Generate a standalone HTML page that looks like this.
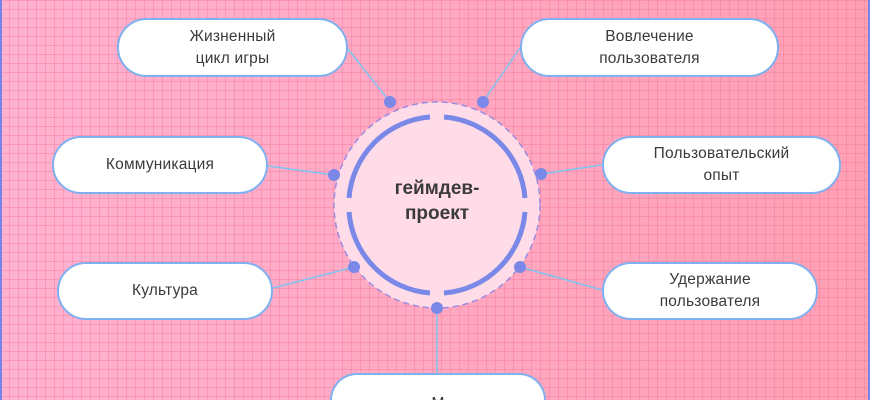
<!DOCTYPE html>
<html><head><meta charset="utf-8"><style>
*{margin:0;padding:0;box-sizing:border-box}
html,body{width:870px;height:400px;overflow:hidden}
body{position:relative;font-family:"Liberation Sans",sans-serif;
background:
linear-gradient(rgba(240,110,140,.35) 1px,transparent 1px) 0 0/9px 9px,
linear-gradient(90deg,rgba(240,110,140,.35) 1px,transparent 1px) 0 0/9px 9px,
linear-gradient(90deg,#ffb2d0,#ffa6c0 60%,#ff9fb4);}
.b{position:absolute;background:#fff;border:2px solid #7fb0f0;border-radius:30px;display:flex;align-items:center;justify-content:center;text-align:center;color:#3a3a3a;font-size:15.5px;line-height:22px;letter-spacing:.2px}
svg{position:absolute;left:0;top:0}
</style></head><body>
<svg width="870" height="400">
<rect x="0" y="0" width="2" height="400" fill="#7a84e8"/>
<rect x="868" y="0" width="2" height="400" fill="#7a84e8"/>
<g stroke="#7fc4f0" stroke-width="1.5">
<line x1="347" y1="48" x2="390" y2="102"/>
<line x1="520" y1="48" x2="483" y2="102"/>
<line x1="268" y1="166" x2="334" y2="175"/>
<line x1="602" y1="165" x2="541" y2="174"/>
<line x1="273" y1="288" x2="354" y2="267"/>
<line x1="602" y1="290" x2="520" y2="267"/>
<line x1="437" y1="308" x2="437" y2="373"/>
</g>
<circle cx="437" cy="205" r="103" fill="#ffdce8" stroke="#9a8ce0" stroke-width="1.5" stroke-dasharray="6 4"/>
<g fill="none" stroke="#7a88e8" stroke-width="5">
<path d="M 430 117 A 88 88 0 0 0 349 198"/>
<path d="M 444 117 A 88 88 0 0 1 525 198"/>
<path d="M 349 212 A 88 88 0 0 0 430 293"/>
<path d="M 525 212 A 88 88 0 0 1 444 293"/>
</g>
<g fill="#7a88e8">
<circle cx="390" cy="102" r="6"/><circle cx="483" cy="102" r="6"/>
<circle cx="334" cy="175" r="6"/><circle cx="541" cy="174" r="6"/>
<circle cx="354" cy="267" r="6"/><circle cx="520" cy="267" r="6"/>
<circle cx="437" cy="308" r="6"/>
</g>
<text x="437" y="194" text-anchor="middle" font-family="Liberation Sans" font-weight="bold" font-size="19" fill="#3a3a3a">геймдев-</text>
<text x="437" y="219" text-anchor="middle" font-family="Liberation Sans" font-weight="bold" font-size="19" fill="#3a3a3a">проект</text>
</svg>
<div class="b" style="left:117px;top:18px;width:231px;height:59px">Жизненный<br>цикл игры</div>
<div class="b" style="left:520px;top:18px;width:259px;height:59px">Вовлечение<br>пользователя</div>
<div class="b" style="left:52px;top:136px;width:216px;height:58px">Коммуникация</div>
<div class="b" style="left:602px;top:136px;width:239px;height:58px">Пользовательский<br>опыт</div>
<div class="b" style="left:57px;top:262px;width:216px;height:58px">Культура</div>
<div class="b" style="left:602px;top:262px;width:216px;height:58px">Удержание<br>пользователя</div>
<div class="b" style="left:330px;top:373px;width:216px;height:27px;border-bottom:none;border-radius:28px 28px 0 0;align-items:flex-start;padding-top:18px;overflow:hidden">М</div>
</body></html>
